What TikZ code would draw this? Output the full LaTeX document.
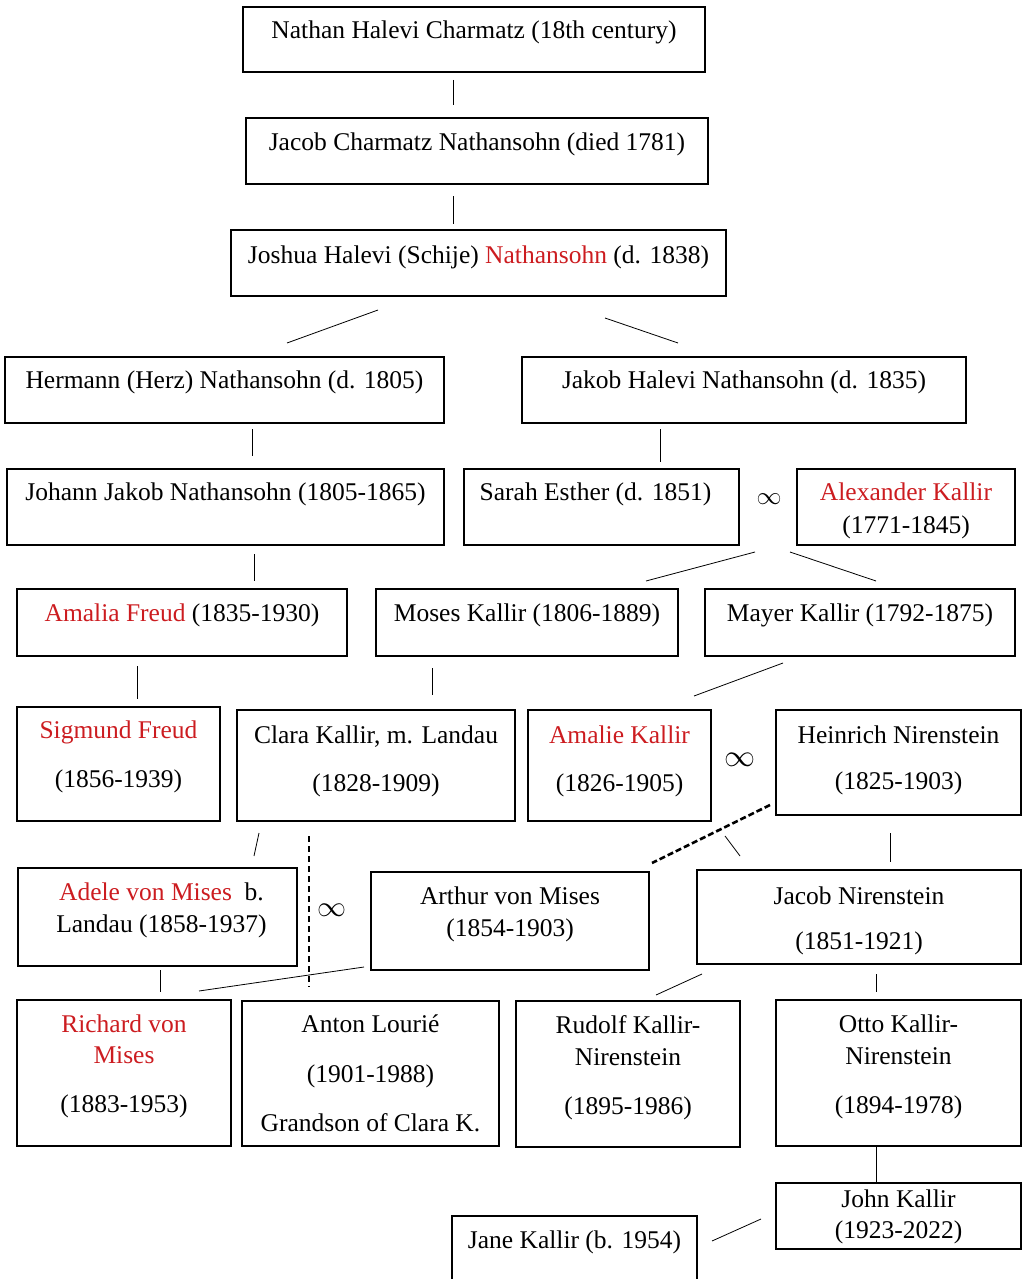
\documentclass[tikz,border=0pt]{standalone}
\usepackage{fontspec}
\setmainfont{Liberation Serif}
\usepackage{graphicx}
\usepackage{xcolor}
\usetikzlibrary{positioning, calc}
\definecolor{namered}{RGB}{204,28,32}

\begin{document}
\begin{tikzpicture}[x=1pt, y=-1pt,
    box/.style={draw, line width=2pt, inner sep=0pt},
    who/.style={inner sep=0pt, align=center, font=\fontsize{25.5}{31}\selectfont},
    link/.style={line width=0.8pt},
    wed/.style={inner sep=0pt}]
    \useasboundingbox (0,0) rectangle (1023,1279);

    \node[box, minimum width=462, minimum height=65] (nathan) at (474,39.5) {};
    \node[who, below=15pt of nathan.north] (nathan-t) {Nathan Halevi Charmatz (18th century)};
    \node[box, minimum width=462, minimum height=66] (jacobc) at (477,151) {};
    \node[who, below=16pt of jacobc.north] (jacobc-t) {Jacob Charmatz Nathansohn (died 1781)};
    \node[box, minimum width=495, minimum height=66] (joshua) at (478.5,263) {};
    \node[who, below=17pt of joshua.north] (joshua-t) {Joshua Halevi (Schije) \textcolor{namered}{Nathansohn} (d. 1838)};

    \node[box, minimum width=439, minimum height=66] (hermann) at (224.5,390) {};
    \node[who, below=15pt of hermann.north] (hermann-t) {Hermann (Herz) Nathansohn (d. 1805)};
    \node[box, minimum width=444, minimum height=66] (jakobh) at (744,390) {};
    \node[who, below=15pt of jakobh.north] (jakobh-t) {Jakob Halevi Nathansohn (d. 1835)};

    \node[box, minimum width=437, minimum height=76] (johann) at (225.5,507) {};
    \node[who, below=15pt of johann.north] (johann-t) {Johann Jakob Nathansohn (1805-1865)};
    \node[box, minimum width=275, minimum height=76] (sarah) at (601.5,507) {};
    \node[who, below=15pt of sarah.north, xshift=-6pt] (sarah-t) {Sarah Esther (d. 1851)};
    \node[wed] (wed1) at (769,499) {\resizebox{25pt}{!}{$\infty$}};
    \node[box, minimum width=218, minimum height=76] (alexander) at (906,507) {};
    \node[who, below=15pt of alexander.north] (alexander-t) {\textcolor{namered}{Alexander Kallir}\\[2pt](1771-1845)};

    \node[box, minimum width=330, minimum height=67] (amalia) at (182,622.5) {};
    \node[who, below=16pt of amalia.north] (amalia-t) {\textcolor{namered}{Amalia Freud} (1835-1930)};
    \node[box, minimum width=302, minimum height=67] (moses) at (527,622.5) {};
    \node[who, below=16pt of moses.north] (moses-t) {Moses Kallir (1806-1889)};
    \node[box, minimum width=310, minimum height=67] (mayer) at (860,622.5) {};
    \node[who, below=16pt of mayer.north] (mayer-t) {Mayer Kallir (1792-1875)};

    \node[box, minimum width=203, minimum height=114] (sigmund) at (118.5,764) {};
    \node[who, below=15pt of sigmund.north] (sigmund-t) {\textcolor{namered}{Sigmund Freud}\\[18pt](1856-1939)};
    \node[box, minimum width=278, minimum height=111] (clara) at (376,765.5) {};
    \node[who, below=17pt of clara.north] (clara-t) {Clara Kallir, m. Landau\\[17pt](1828-1909)};
    \node[box, minimum width=183, minimum height=111] (amalie) at (619.5,765.5) {};
    \node[who, below=17pt of amalie.north] (amalie-t) {\textcolor{namered}{Amalie Kallir}\\[17pt](1826-1905)};
    \node[wed] (wed2) at (740,760) {\resizebox{31pt}{!}{$\infty$}};
    \node[box, minimum width=245, minimum height=105] (heinrich) at (898.5,762.5) {};
    \node[who, below=17pt of heinrich.north] (heinrich-t) {Heinrich Nirenstein\\[15pt](1825-1903)};

    \node[box, minimum width=279, minimum height=98] (adele) at (157.5,917) {};
    \node[who, below=16pt of adele.north, xshift=4pt] (adele-t) {\textcolor{namered}{Adele von Mises}~ b.\\[1pt]Landau (1858-1937)};
    \node[wed] (wed3) at (332,910) {\resizebox{29pt}{!}{$\infty$}};
    \node[box, minimum width=278, minimum height=98] (arthur) at (510,921) {};
    \node[who, below=16pt of arthur.north] (arthur-t) {Arthur von Mises\\[1pt](1854-1903)};
    \node[box, minimum width=324, minimum height=94] (jacobn) at (859,917) {};
    \node[who, below=18pt of jacobn.north] (jacobn-t) {Jacob Nirenstein\\[14pt](1851-1921)};

    \node[box, minimum width=214, minimum height=146] (richard) at (124,1073) {};
    \node[who, below=16pt of richard.north] (richard-t) {\textcolor{namered}{Richard von}\\\textcolor{namered}{Mises}\\[18pt](1883-1953)};
    \node[box, minimum width=257, minimum height=145] (anton) at (370.5,1073.5) {};
    \node[who, below=15pt of anton.north] (anton-t) {Anton Louri\'e\\[19pt](1901-1988)\\[18pt]Grandson of Clara K.};
    \node[box, minimum width=224, minimum height=146] (rudolf) at (628,1074) {};
    \node[who, below=15pt of rudolf.north] (rudolf-t) {Rudolf Kallir-\\[1pt]Nirenstein\\[18pt](1895-1986)};
    \node[box, minimum width=245, minimum height=146] (otto) at (898.5,1073) {};
    \node[who, below=16pt of otto.north] (otto-t) {Otto Kallir-\\[1pt]Nirenstein\\[18pt](1894-1978)};

    \node[box, minimum width=245, minimum height=66] (john) at (898.5,1216) {};
    \node[who, below=8pt of john.north] (john-t) {John Kallir\\(1923-2022)};
    \node[box, minimum width=245, minimum height=74] (jane) at (574.5,1253) {};
    \node[who, below=16pt of jane.north] (jane-t) {Jane Kallir (b. 1954)};

    \draw[link] ($(nathan.south)+(-21,7)$) -- ($(jacobc.north)+(-24,-12)$);
    \draw[link] ($(jacobc.south)+(-24,11)$) -- ($(joshua.north)+(-25.5,-5)$);
    \draw[link] ($(joshua.south)+(-100.5,13)$) -- ($(hermann.north)+(62.5,-13)$);
    \draw[link] ($(joshua.south)+(126.5,21)$) -- ($(jakobh.north)+(-66,-13)$);
    \draw[link] ($(hermann.south)+(27.5,5)$) -- ($(johann.north)+(26.5,-12)$);
    \draw[link] ($(jakobh.south)+(-84,5)$) -- ($(sarah.north)+(58.5,-6)$);
    \draw[link] ($(johann.south)+(28.5,8)$) -- ($(amalia.north)+(72,-7)$);
    \draw[link] ($(wed1)+(-14,53)$) -- ($(moses.north east)+(-33,-7)$);
    \draw[link] ($(wed1)+(21,53)$) -- ($(mayer.north)+(16,-7)$);
    \draw[link] ($(amalia.south)+(-45,9)$) -- ($(sigmund.north)+(18.5,-7)$);
    \draw[link] ($(moses.south)+(-95,11)$) -- ($(clara.north)+(56,-14)$);
    \draw[link] ($(mayer.south)+(-77,6)$) -- ($(amalie.north)+(74.5,-13)$);
    \draw[link] ($(clara.south)+(-117,11)$) -- ($(adele.north)+(96.5,-11)$);
    \draw[link, line width=1.4pt, dash pattern=on 6pt off 4pt] ($(clara.south)+(-67,14)$) -- ($(anton.north)+(-61.5,-13)$);
    \draw[link, line width=2.6pt, dash pattern=on 6pt off 3pt] ($(heinrich.south west)+(-5,-11)$) -- ($(arthur.north east)+(2,-8)$);
    \draw[link] ($(amalie.south)+(105.5,14)$) -- ($(jacobn.north)+(-119,-13)$);
    \draw[link] ($(heinrich.south)+(-8.5,17)$) -- ($(jacobn.north)+(31,-7)$);
    \draw[link] ($(adele.south)+(2.5,3)$) -- ($(richard.north)+(36,-7)$);
    \draw[link] ($(arthur.south west)+(-6,-4)$) -- ($(richard.north east)+(-33,-8)$);
    \draw[link] ($(jacobn.south west)+(6,9)$) -- ($(rudolf.north east)+(-85,-5)$);
    \draw[link] ($(jacobn.south)+(17,9)$) -- ($(otto.north)+(-22.5,-7)$);
    \draw[link] ($(otto.south)+(-22.5,0)$) -- ($(john.north)+(-22.5,0)$);
    \draw[link] ($(john.west)+(-14,3)$) -- ($(jane.north east)+(14,26)$);
\end{tikzpicture}
\end{document}
